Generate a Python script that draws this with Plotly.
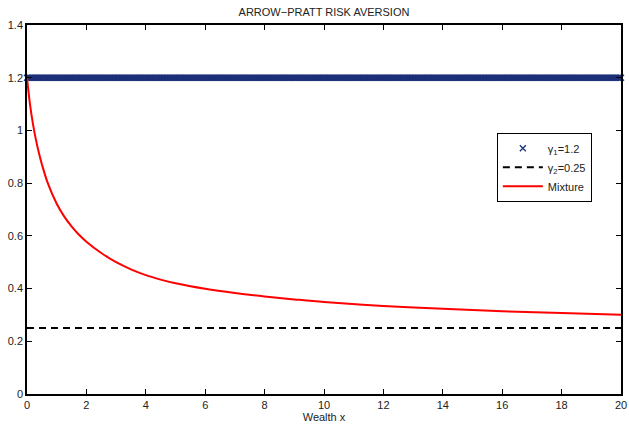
import plotly.graph_objects as go

# Wealth grid for the constant-gamma series
wealth_grid = [round(i * 0.05, 2) for i in range(401)]
gamma1_value = 1.2
gamma2_value = 0.25

# Mixture risk aversion
mix_x = [0, 0.1, 0.2, 0.3, 0.4, 0.5, 0.7, 1.0, 1.25, 1.5, 1.75, 2, 2.5, 3, 3.5, 4,
         4.5, 5, 6, 7, 8, 9, 10, 12, 14, 16, 18, 20]
mix_y = [1.2, 1.10, 1.025, 0.965, 0.915, 0.872, 0.80, 0.722, 0.674, 0.636, 0.604, 0.578,
         0.535, 0.500, 0.473, 0.451, 0.434, 0.420, 0.399, 0.383, 0.370, 0.359, 0.349,
         0.334, 0.323, 0.314, 0.307, 0.301]

x_ticks = [0, 2, 4, 6, 8, 10, 12, 14, 16, 18, 20]
y_ticks = [0, 0.2, 0.4, 0.6, 0.8, 1, 1.2, 1.4]

NAVY = "#1c2f78"

fig = go.Figure()
fig.add_trace(go.Scatter(
    x=wealth_grid, y=[gamma1_value] * len(wealth_grid), mode="markers",
    marker=dict(symbol="x-thin", size=6, line=dict(color=NAVY, width=1.3), color=NAVY),
    cliponaxis=False,
    name="γ<sub>1</sub>=1.2"))
fig.add_trace(go.Scatter(
    x=[0, 20], y=[gamma2_value, gamma2_value], mode="lines",
    line=dict(color="black", width=2, dash="7px,5px"),
    name="γ<sub>2</sub>=0.25"))
fig.add_trace(go.Scatter(
    x=mix_x, y=mix_y, mode="lines", line=dict(color="#ff0000", width=2, shape="spline"),
    name="Mixture"))

axis_common = dict(showgrid=False, zeroline=False, showline=True, linecolor="black",
                   linewidth=1.5, mirror="ticks", ticks="inside", ticklen=5,
                   tickcolor="black", tickfont=dict(size=11, color="#222"),
                   automargin=False, ticklabeloverflow="allow")

fig.update_layout(
    width=629, height=424,
    margin=dict(l=27, r=8, t=25, b=30),
    paper_bgcolor="white", plot_bgcolor="white",
    font=dict(family="Liberation Sans, Arial, sans-serif", size=11, color="#222"),
    title=dict(text="ARROW−PRATT RISK AVERSION", x=324 / 629, xref="container",
               y=1 - 12 / 424, yref="container", yanchor="middle", xanchor="center",
               font=dict(size=11, color="#222")),
    xaxis=dict(range=[0, 20], tickvals=x_ticks, title=dict(text="Wealth x", standoff=0,
               font=dict(size=11)), **axis_common),
    yaxis=dict(range=[0, 1.4], tickvals=y_ticks, ticktext=[str(v) for v in y_ticks],
               **axis_common),
    legend=dict(x=0.791, y=0.708, xanchor="left", yanchor="top", bgcolor="white",
                bordercolor="black", borderwidth=1, font=dict(size=11),
                tracegroupgap=0, itemwidth=40),
    showlegend=True,
)

fig.write_html("out.html", config={"displayModeBar": False},
               post_script="document.body.style.margin='0';document.body.style.overflow='hidden';")
